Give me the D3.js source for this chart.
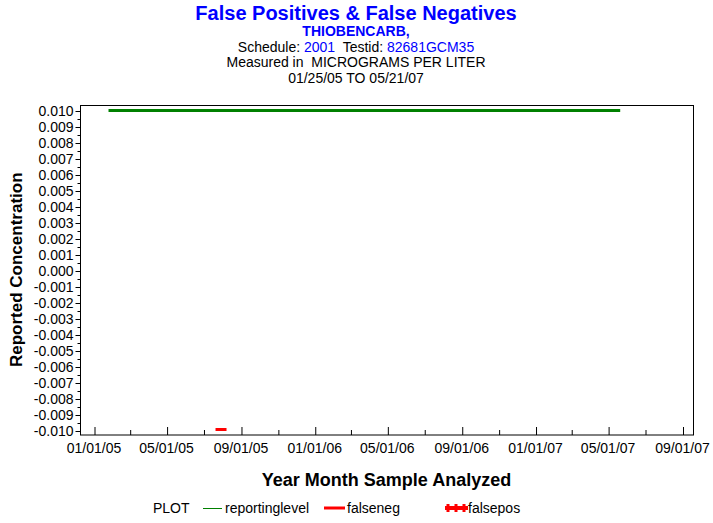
<!DOCTYPE html>
<html>
<head>
<meta charset="utf-8">
<script src="https://cdn.jsdelivr.net/npm/d3@7"></script>
<style>
  html, body { margin: 0; padding: 0; background: #fff; }
  svg { display: block; font-family: "Liberation Sans", Arial, sans-serif; }
</style>
</head>
<body>
<svg id="chart" width="713" height="523"></svg>
<script>
// ---------- data ----------
const reportingDates = ["2005-01-25", "2007-05-21"];
const reportingValues = [0.01, 0.01];
const falsenegDates = ["2005-07-30"];
const falsenegValues = [-0.01];
const falseposDates = [];
const falseposValues = [];
const xTickLabels = ["01/01/05","05/01/05","09/01/05","01/01/06","05/01/06","09/01/06","01/01/07","05/01/07","09/01/07"];
const yTickValues = [-0.010,-0.009,-0.008,-0.007,-0.006,-0.005,-0.004,-0.003,-0.002,-0.001,0.000,0.001,0.002,0.003,0.004,0.005,0.006,0.007,0.008,0.009,0.010];
const titleLines = ["False Positives & False Negatives", "THIOBENCARB,"];
const scheduleText = ["Schedule: ", "2001", "  Testid: ", "82681GCM35"];
const unitsText = "Measured in  MICROGRAMS PER LITER";
const dateRangeText = "01/25/05 TO 05/21/07";
const xTitle = "Year Month Sample Analyzed";
const yTitle = "Reported Concentration";
const legendLabels = ["reportinglevel", "falseneg", "falsepos"];

// ---------- setup ----------
const svg = d3.select("#chart");
const parse = d3.utcParse("%Y-%m-%d");
const parseTick = d3.utcParse("%m/%d/%y");
const fmtTick = d3.utcFormat("%m/%d/%y");
const loc = d3.formatLocale({decimal: ".", thousands: ",", grouping: [3], currency: ["$", ""], minus: "-"});
const yFmt = loc.format(".3f");

const frame = {left: 80, right: 693, top: 105, bottom: 434.5};
const xTicks = xTickLabels.map(parseTick);
const x = d3.scaleUtc()
  .domain([xTicks[0], xTicks[xTicks.length - 1]])
  .range([94, 682.5]);
const y = d3.scaleLinear().domain([-0.01, 0.01]).range([430.5, 110.5]);

const blue = "#0000ff";
const green = "#008000";
const red = "#ff0000";

// ---------- titles ----------
const cx = 356;
svg.append("text").attr("x", cx).attr("y", 20).attr("text-anchor", "middle")
  .attr("font-size", 20).attr("font-weight", "bold").attr("fill", blue).text(titleLines[0]);
svg.append("text").attr("x", cx).attr("y", 36).attr("text-anchor", "middle")
  .attr("font-size", 14).attr("font-weight", "bold").attr("fill", blue).text(titleLines[1]);
const sch = svg.append("text").attr("x", cx).attr("y", 52).attr("text-anchor", "middle")
  .attr("font-size", 14).attr("xml:space", "preserve");
scheduleText.forEach((t, i) => sch.append("tspan").attr("fill", i % 2 ? blue : "#000").text(t));
svg.append("text").attr("x", cx).attr("y", 67).attr("text-anchor", "middle")
  .attr("font-size", 14).attr("xml:space", "preserve").text(unitsText);
svg.append("text").attr("x", cx).attr("y", 83).attr("text-anchor", "middle")
  .attr("font-size", 14).text(dateRangeText);

// ---------- frame ----------
svg.append("rect").attr("x", frame.left + 0.5).attr("y", frame.top + 0.5)
  .attr("width", frame.right - frame.left).attr("height", frame.bottom - frame.top)
  .attr("fill", "none").attr("stroke", "#000").attr("stroke-width", 1);

// ---------- y axis ----------
const yAxis = d3.axisLeft(y).tickValues(yTickValues).tickFormat(yFmt).tickSize(5).tickPadding(2);
const gy = svg.append("g").attr("transform", `translate(${frame.left + 0.5},0.5)`).call(yAxis);
gy.select(".domain").remove();
gy.selectAll("text").attr("font-size", 14).attr("font-family", "Liberation Sans, Arial, sans-serif").attr("fill", "#000");
const yMinor = d3.range(yTickValues.length - 1).map(i => (yTickValues[i] + yTickValues[i + 1]) / 2);
svg.append("g").attr("transform", `translate(${frame.left + 0.5},0.5)`)
  .call(d3.axisLeft(y).tickValues(yMinor).tickFormat("").tickSize(3))
  .select(".domain").remove();

// ---------- x axis ----------
const xAxis = d3.axisTop(x).tickValues(xTicks).tickFormat("").tickSize(8);
const gx = svg.append("g").attr("transform", `translate(0.5,${frame.bottom + 0.5})`).call(xAxis);
gx.select(".domain").remove();
const xMinor = xTicks.slice(0, -1).map(d => d3.utcMonth.offset(d, 2));
svg.append("g").attr("transform", `translate(0.5,${frame.bottom + 0.5})`)
  .call(d3.axisTop(x).tickValues(xMinor).tickFormat("").tickSize(5))
  .select(".domain").remove();
svg.append("g").selectAll("text").data(xTicks).join("text")
  .attr("x", d => x(d)).attr("y", 453).attr("text-anchor", "middle")
  .attr("font-size", 14).text(d => fmtTick(d));

// ---------- axis titles ----------
svg.append("text").attr("x", (frame.left + frame.right) / 2).attr("y", 486).attr("text-anchor", "middle")
  .attr("font-size", 18).attr("font-weight", "bold").text(xTitle);
svg.append("text").attr("transform", `translate(22,${(frame.top + frame.bottom) / 2}) rotate(-90)`)
  .attr("text-anchor", "middle").attr("font-size", 17).attr("font-weight", "bold").text(yTitle);

// ---------- data marks ----------
const line = d3.line().x(d => x(d[0])).y(d => y(d[1]));
const repData = reportingDates.map((d, i) => [parse(d), reportingValues[i]]);
svg.append("path").datum(repData).attr("d", line)
  .attr("fill", "none").attr("stroke", green).attr("stroke-width", 3);

svg.append("g").selectAll("line").data(falsenegDates.map((d, i) => [parse(d), falsenegValues[i]])).join("line")
  .attr("x1", d => x(d[0]) - 5.5).attr("x2", d => x(d[0]) + 5.5)
  .attr("y1", d => y(d[1]) - 1).attr("y2", d => y(d[1]) - 1)
  .attr("stroke", red).attr("stroke-width", 3);

svg.append("g").selectAll("path").data(falseposDates.map((d, i) => [parse(d), falseposValues[i]])).join("path")
  .attr("d", d => d3.symbol(d3.symbolCross, 40)())
  .attr("transform", d => `translate(${x(d[0])},${y(d[1])})`).attr("fill", red);

// ---------- legend ----------
const ly = 508;
const lg = svg.append("g").attr("font-size", 14);
lg.append("text").attr("x", 153).attr("y", ly + 5).text("PLOT");
lg.append("line").attr("x1", 203).attr("x2", 222).attr("y1", ly + 0.5).attr("y2", ly + 0.5)
  .attr("stroke", green).attr("stroke-width", 1);
lg.append("text").attr("x", 225).attr("y", ly + 5).text(legendLabels[0]);
lg.append("line").attr("x1", 324).attr("x2", 345).attr("y1", ly).attr("y2", ly)
  .attr("stroke", red).attr("stroke-width", 3);
lg.append("text").attr("x", 347).attr("y", ly + 5).text(legendLabels[1]);
lg.append("line").attr("x1", 445).attr("x2", 468).attr("y1", ly).attr("y2", ly)
  .attr("stroke", red).attr("stroke-width", 4);
[448, 456, 464].forEach(px => {
  lg.append("line").attr("x1", px).attr("x2", px).attr("y1", ly - 4).attr("y2", ly + 4)
    .attr("stroke", red).attr("stroke-width", 3);
});
lg.append("text").attr("x", 468).attr("y", ly + 5).text(legendLabels[2]);
</script>
</body>
</html>
